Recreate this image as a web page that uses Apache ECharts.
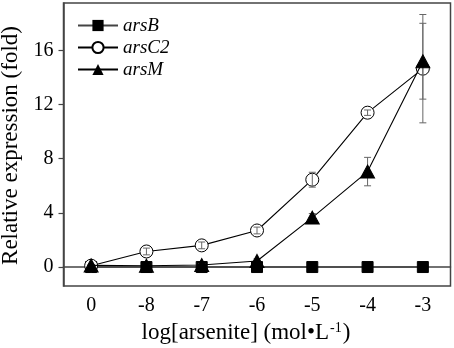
<!DOCTYPE html>
<html><head><meta charset="utf-8">
<script src="https://cdn.jsdelivr.net/npm/echarts@6/dist/echarts.min.js"></script>
<style>html,body{margin:0;padding:0;background:#fff}#c{width:454px;height:348px}</style>
</head><body><div id="c"></div>
<script>
const categories = ['0', '-8', '-7', '-6', '-5', '-4', '-3'];
const arsB = [0, 0, 0, 0, 0, 0, 0];
const arsC2 = [0.1, 1.15, 1.6, 2.7, 6.45, 11.4, 14.65];
const arsC2Err = [0.05, 0.25, 0.25, 0.25, 0.55, 0.2, 4.0];
const arsM = [0.12, 0.1, 0.15, 0.45, 3.65, 7.05, 15.2];
const arsMErr = [0.05, 0.05, 0.1, 0.15, 0.3, 1.05, 2.8];
const yTicks = [0, 4, 8, 12, 16];

const FONT = 'Liberation Serif';
const chart = echarts.init(document.getElementById('c'), null, {renderer: 'canvas'});

function errSeries(vals, errs, z) {
  return {
    type: 'custom',
    z: z,
    silent: true,
    encode: {x: 0, y: 1},
    data: vals.map((v, i) => [i, v, errs[i]]),
    renderItem: function (params, api) {
      const i = api.value(0), v = api.value(1), e = api.value(2);
      const t = api.coord([i, v + e]);
      const b = api.coord([i, v - e]);
      const hw = 3.5;
      const st = {stroke: '#666', lineWidth: 1};
      return {
        type: 'group',
        children: [
          {type: 'line', shape: {x1: t[0], y1: t[1], x2: b[0], y2: b[1]}, style: st},
          {type: 'line', shape: {x1: t[0] - hw, y1: t[1], x2: t[0] + hw, y2: t[1]}, style: st},
          {type: 'line', shape: {x1: b[0] - hw, y1: b[1], x2: b[0] + hw, y2: b[1]}, style: st}
        ]
      };
    }
  };
}

const option = {
  animation: false,
  backgroundColor: '#fff',
  grid: {left: 63.5, right: 3.5, top: 3, bottom: 62, show: true, borderColor: '#444', borderWidth: 1.5, containLabel: false},
  legend: {
    data: ['arsB', 'arsC2', 'arsM'],
    orient: 'vertical',
    left: 72,
    top: 11,
    itemWidth: 40,
    itemHeight: 14,
    itemGap: 3,
    textStyle: {fontFamily: FONT, fontStyle: 'italic', fontSize: 19, color: '#000'}
  },
  xAxis: {
    type: 'category',
    data: categories,
    boundaryGap: true,
    axisLine: {lineStyle: {color: '#444', width: 1.5}},
    axisTick: {alignWithLabel: true, length: 5, lineStyle: {color: '#444', width: 1.2}},
    axisLabel: {fontFamily: FONT, fontSize: 20, color: '#000', margin: 10},
    splitLine: {show: false}
  },
  yAxis: {
    type: 'value',
    min: -1.4,
    max: 19.5,
    axisLine: {show: true, lineStyle: {color: '#444', width: 1.5}},
    axisTick: {show: true, length: 5, customValues: yTicks, lineStyle: {color: '#444', width: 1.2}},
    axisLabel: {fontFamily: FONT, fontSize: 20, color: '#000', margin: 10, customValues: yTicks},
    splitLine: {show: false}
  },
  graphic: [
    {type: 'text', x: 11, y: 145.5, rotation: Math.PI / 2,
      style: {text: 'Relative expression (fold)', fontFamily: FONT, fontSize: 23, fill: '#000', align: 'center', verticalAlign: 'middle'}},
    {type: 'text', x: 246, y: 333,
      style: {text: 'log[arsenite] (mol\u2022L{s|-1})', fontFamily: FONT, fontSize: 23, fill: '#000', align: 'center', verticalAlign: 'middle',
        rich: {s: {fontFamily: FONT, fontSize: 14, fill: '#000', verticalAlign: 'top', padding: [0, 1, 0, 1]}}}}
  ],
  series: [
    {name: 'arsB', type: 'line', data: arsB, symbol: 'rect', symbolSize: 11, z: 3,
      lineStyle: {color: '#444', width: 1.6}, itemStyle: {color: '#000', borderColor: '#000'}},
    {name: 'arsC2', type: 'line', data: arsC2, symbol: 'circle', symbolSize: 13, z: 4,
      lineStyle: {color: '#000', width: 1.1}, itemStyle: {color: '#fff', borderColor: '#000', borderWidth: 1}},
    errSeries(arsC2, arsC2Err, 5),
    errSeries(arsM, arsMErr, 5),
    {name: 'arsM', type: 'line', data: arsM, symbol: 'triangle', symbolSize: [14, 13], z: 6,
      lineStyle: {color: '#000', width: 1.1}, itemStyle: {color: '#000', borderColor: '#000'}}
  ]
};
chart.setOption(option);
</script>
</body></html>
